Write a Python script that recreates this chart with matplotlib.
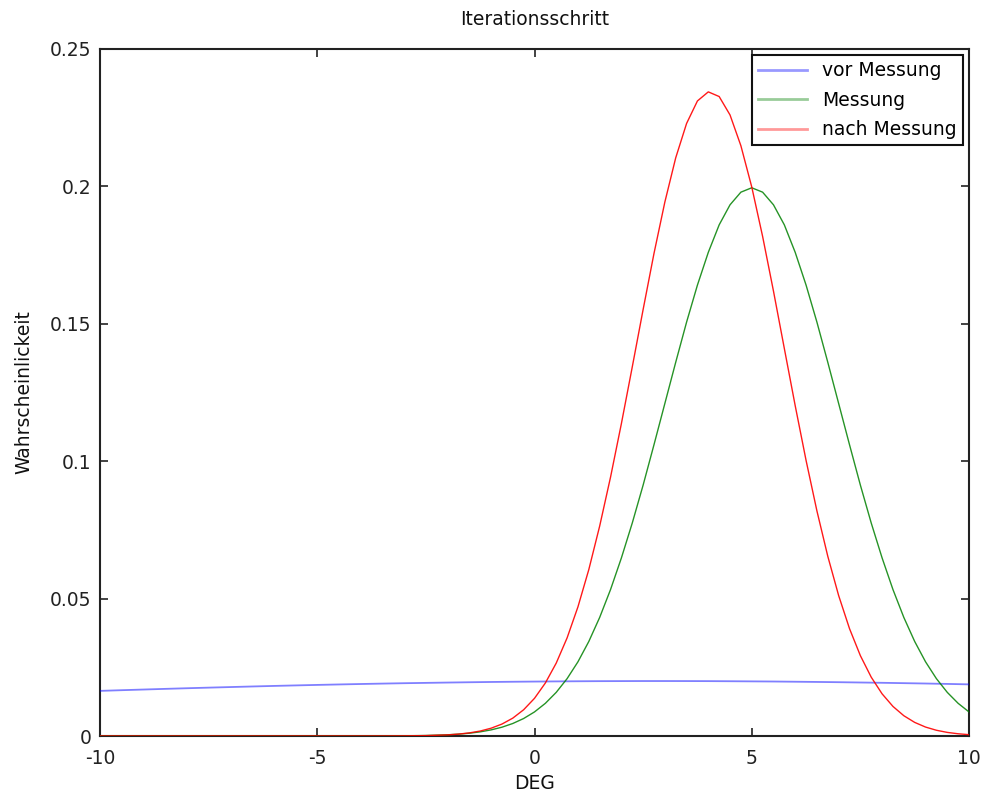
import matplotlib
matplotlib.use("Agg")
import matplotlib.pyplot as plt

plt.rcParams['font.family'] = ['DejaVu Sans']

# prior (vor Messung)
x_vor = [-10, -9.5, -9, -8.5, -8, -7.5, -7, -6.5, -6, -5.5, -5, -4.5, -4, -3.5, -3, -2.5,
         -2, -1.5, -1, -0.5, 0, 0.5, 1, 1.5, 2, 2.5, 3, 3.5, 4, 4.5, 5, 5.5, 6, 6.5,
         7, 7.5, 8, 8.5, 9, 9.5, 10]
y_vor = [0.01642, 0.01667, 0.01691, 0.01715, 0.01738, 0.01760, 0.01781, 0.01802, 0.01822,
         0.01841, 0.01859, 0.01876, 0.01892, 0.01907, 0.01921, 0.01933, 0.01945, 0.01956,
         0.01966, 0.01974, 0.01981, 0.01987, 0.01992, 0.01996, 0.01998, 0.02000, 0.02000,
         0.01999, 0.01997, 0.01993, 0.01988, 0.01983, 0.01975, 0.01967, 0.01958, 0.01947,
         0.01936, 0.01923, 0.01910, 0.01895, 0.01879]

# Messung / nach Messung
x_mess = [-10, -8, -6, -4, -3.5, -3, -2.5, -2, -1.75, -1.5, -1.25, -1, -0.75, -0.5, -0.25,
          0, 0.25, 0.5, 0.75, 1, 1.25, 1.5, 1.75, 2, 2.25, 2.5, 2.75, 3, 3.25, 3.5, 3.75,
          4, 4.25, 4.5, 4.75, 5, 5.25, 5.5, 5.75, 6, 6.25, 6.5, 6.75, 7, 7.25, 7.5, 7.75,
          8, 8.25, 8.5, 8.75, 9, 9.25, 9.5, 9.75, 10]
y_mess = [0.0, 0.0, 0.0, 0.000002, 0.000012, 0.0000669, 0.000176, 0.000437, 0.000671,
          0.00101, 0.001511, 0.00222, 0.00320, 0.00455, 0.00636,
          0.00876, 0.01189, 0.01588, 0.02087, 0.0270, 0.03440, 0.04315, 0.05329, 0.0648,
          0.0775, 0.0913, 0.1060, 0.1210, 0.1360, 0.1506, 0.1641,
          0.1760, 0.1860, 0.1933, 0.1979, 0.1995, 0.1979, 0.1933, 0.1860, 0.1760,
          0.1641, 0.1506, 0.1360, 0.1210, 0.1060, 0.0913, 0.0775,
          0.0648, 0.05329, 0.04315, 0.03440, 0.0270, 0.02087, 0.01588, 0.01189, 0.00876]
y_nach = [0.0, 0.0, 0.0, 0.000001, 0.000012, 0.0000424, 0.000138, 0.000412, 0.000689,
          0.00113, 0.001806, 0.00283, 0.00434, 0.00650, 0.00955,
          0.01371, 0.01929, 0.02653, 0.03569, 0.0470, 0.06057, 0.0764, 0.0942, 0.1137,
          0.1343, 0.1552, 0.1756, 0.1943, 0.2104, 0.2229, 0.2311,
          0.2344, 0.2327, 0.2260, 0.2148, 0.1998, 0.1818, 0.1619, 0.1410, 0.1202,
          0.1003, 0.0819, 0.0654, 0.0511, 0.03907, 0.02924, 0.02140,
          0.01534, 0.01076, 0.00738, 0.00495, 0.00325, 0.00209, 0.00131, 0.000808, 0.000486]

x_ticks = [-10, -5, 0, 5, 10]
x_ticklabels = ['-10', '-5', '0', '5', '10']
y_ticks = [0, 0.05, 0.1, 0.15, 0.2, 0.25]
y_ticklabels = ['0', '0.05', '0.1', '0.15', '0.2', '0.25']

FS = 13.5
fig = plt.figure(figsize=(9.89, 7.96), dpi=100)
ax = fig.add_axes([100/989, 1-736/796, 869/989, 687/796])

ax.plot(x_vor, y_vor, color='#0000ff', lw=1.3, alpha=0.5, label='vor Messung', zorder=3)
ax.plot(x_mess, y_mess, color='#008000', lw=1.0, alpha=0.85, label='Messung', zorder=3)
ax.plot(x_mess, y_nach, color='#ff0000', lw=1.0, alpha=0.9, label='nach Messung', zorder=3)

ax.set_xlim(-10, 10)
ax.set_ylim(0, 0.25)
ax.set_xticks(x_ticks)
ax.set_xticklabels(x_ticklabels)
ax.set_yticks(y_ticks)
ax.set_yticklabels(y_ticklabels)
ax.tick_params(direction='in', length=6, width=1.2, top=True, right=True,
               labelsize=FS, colors='#222222')
ax.tick_params(axis='x', pad=9)
ax.tick_params(axis='y', pad=6)
for s in ax.spines.values():
    s.set_linewidth(1.5)
    s.set_color('#222222')

ax.text(0.5, 1 + (49 - 19.7) / 687, 'Iterationsschritt', transform=ax.transAxes,
        ha='center', va='center', fontsize=FS, color='#111111')
ax.set_xlabel('DEG', fontsize=FS, color='#111111')
ax.xaxis.set_label_coords(0.5, -(783.5 - 736) / 687)
ax.xaxis.label.set_va('center')
ax.set_ylabel('Wahrscheinlickeit', fontsize=FS, color='#111111')
ax.yaxis.set_label_coords((23.5 - 100) / 869, 0.5)
ax.yaxis.label.set_va('center')

leg = ax.legend(loc='upper right', fontsize=FS, frameon=True, fancybox=False,
                edgecolor='#111111', framealpha=1, borderaxespad=0.33,
                handlelength=2.6, labelspacing=0.56, borderpad=0.32, handletextpad=0.8)
leg.get_frame().set_linewidth(1.5)
for h in leg.get_lines():
    h.set_alpha(0.4)
    h.set_linewidth(2.0)

fig.savefig('out.png', dpi=100)
